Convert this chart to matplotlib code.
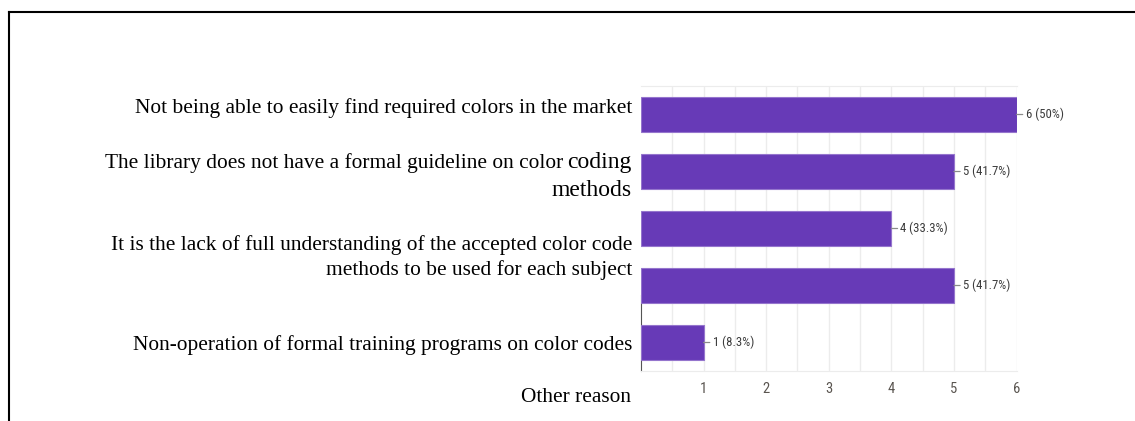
import matplotlib
matplotlib.use("Agg")
import matplotlib.pyplot as plt
from matplotlib.lines import Line2D
from matplotlib import font_manager

# ---- data ----
reasons = [
    "Not being able to easily find required colors in the market",
    "The library does not have a formal guideline on color coding methods",
    "It is the lack of full understanding of the accepted color code methods to be used for each subject",
    "Non-operation of formal training programs on color codes",
    "Other reason",
]
counts = [6, 5, 4, 5, 1]
percents = ["50%", "41.7%", "33.3%", "41.7%", "8.3%"]
x_ticks = [1, 2, 3, 4, 5, 6]

W, H, DPI = 1135, 421, 100
fig = plt.figure(figsize=(W / DPI, H / DPI), dpi=DPI)

names = {f.name for f in font_manager.fontManager.ttflist}
narrow = ["Liberation Sans Narrow", "Roboto Condensed", "DejaVu Sans"]
narrow = [n for n in narrow if n in names] or ["DejaVu Sans"]
serif = ["Liberation Serif", "DejaVu Serif"]

def px(x, y):
    return x / W, 1 - y / H

# axes placement (pixels)
l, r, t, b = 641, 1016.5, 86, 371
ax = fig.add_axes([l / W, 1 - b / H, (r - l) / W, (b - t) / H])

bar_color = "#673ab7"
ypos = list(range(len(counts)))
ax.barh(ypos, counts, height=0.62, color=bar_color, edgecolor="#9575cd",
        linewidth=0.8, zorder=3)
ax.set_ylim(len(counts) - 0.5, -0.5)
ax.set_xlim(0, 6)

# gridlines every half unit
for g in [0.5 * k for k in range(1, 13)]:
    ax.axvline(g, color="#ececec", lw=1, zorder=1)

ax.set_yticks([])
ax.set_xticks(x_ticks)
ax.set_xticklabels([str(v) for v in x_ticks], fontfamily=narrow, fontsize=10.5,
                   color="#5a5550")
ax.tick_params(axis="x", length=0, pad=8)
ax.spines["right"].set_visible(False)
ax.spines["top"].set_color("#ececec")
ax.spines["bottom"].set_color("#ececec")
ax.spines["left"].set_color("#555555")
ax.spines["left"].set_bounds(3.17, 4.5)

for i, (c, p) in enumerate(zip(counts, percents)):
    ax.annotate(f"{c} ({p})", xy=(c, i), xytext=(9, 0), textcoords="offset pixels",
                ha="left", va="center", fontsize=9.2, fontfamily=narrow,
                color="#3c3c3c",
                arrowprops=dict(arrowstyle="-", color="#8a8a8a", lw=0.9,
                                shrinkA=0, shrinkB=0), zorder=4)

# left labels (serif), right-aligned
RX = 632
fs = 15.4
big = 17
col = "#000000"
dy = 2
fig.text(*px(RX, 106 + dy), reasons[0], ha="right", va="center", family=serif,
         fontsize=fs, color=col)
# mixed size line
coding = fig.text(*px(RX, 168), "coding", ha="right", va="baseline", family=serif,
                  fontsize=big, color=col)
fig.canvas.draw()
bb = coding.get_window_extent(fig.canvas.get_renderer())
fig.text((bb.x0 - 4) / W, 1 - 168 / H, "The library does not have a formal guideline on color",
         ha="right", va="baseline", family=serif, fontsize=fs, color=col)
fig.text(*px(RX, 189 + dy), "methods", ha="right", va="center", family=serif,
         fontsize=big, color=col)
fig.text(*px(RX, 243 + dy), "It is the lack of full understanding of the accepted color code",
         ha="right", va="center", family=serif, fontsize=fs, color=col)
fig.text(*px(RX, 268 + dy), "methods to be used for each subject",
         ha="right", va="center", family=serif, fontsize=fs, color=col)
fig.text(*px(RX, 343 + dy), reasons[3], ha="right", va="center", family=serif,
         fontsize=fs, color=col)
fig.text(*px(RX - 1, 396 + dy), reasons[4], ha="right", va="center", family=serif,
         fontsize=fs, color=col)

# page border (top and left)
fig.add_artist(Line2D([9 / W, 1], [1 - 12 / H, 1 - 12 / H], color="black", lw=1.5,
                      transform=fig.transFigure))
fig.add_artist(Line2D([9 / W, 9 / W], [0, 1 - 12 / H], color="black", lw=1.5,
                      transform=fig.transFigure))

fig.savefig("out.png", dpi=DPI)
